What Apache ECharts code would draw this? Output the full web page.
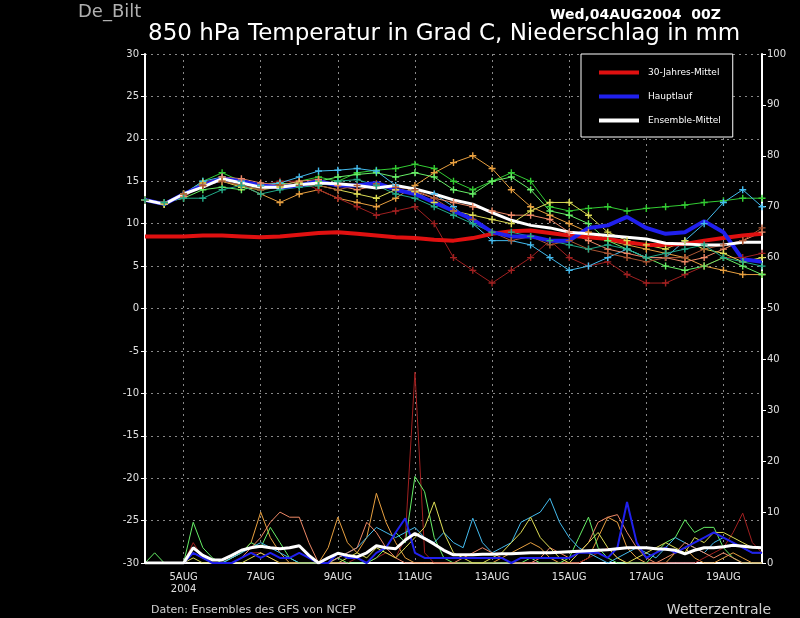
<!DOCTYPE html>
<html><head><meta charset="utf-8">
<script src="https://cdn.jsdelivr.net/npm/echarts@6/dist/echarts.min.js"></script>
<style>html,body{margin:0;background:#000}#c{width:800px;height:618px}</style>
</head><body><div id="c"></div>
<script>
// 6-hourly slots from 04AUG2004 00Z to 20AUG2004 00Z
const slots = [];
for (let i = 0; i <= 64; i++) slots.push(i);
const startDay = 4;

// temperature (12-hourly, 33 values), degC
const tMember = [
 [12.8,12.3,13.5,15,16,15,14.5,14.5,15,15.5,15,16,16.3,16.5,17,16.5,15,14,15,16,15,12,11.5,11.8,12,11.5,11.8,12,12.2,12.5,12.7,13,13],
 [12.8,12.3,13.5,14.5,15,14.5,13.5,12.5,13.5,14,13,12.5,12,13,14.5,16,17.2,18,16.5,14,12,11,10,9,8,7.5,7,6.5,6,5,4.5,4,4],
 [12.8,12.5,13,14.8,15.5,15,14.5,15,15,14,13,12,11,11.5,12,10,6,4.5,3,4.5,6,8,6,5,5.5,4,3,3,4,5,6,6,6.5],
 [12.8,12.5,13,14,14.3,14,14.5,14.8,14.5,15,15.5,15.8,16,15.5,16,15.5,14,13.5,15,15.5,14,11.5,11,10,8,7,6,5,4.5,5,6,5,4],
 [12.8,12.3,13.5,15,15.5,15,14.5,14.8,15.5,16.2,16.3,16.5,16.2,14.5,14,13.5,12,10,8,8,7.5,6,4.5,5,6,7,6,6,8,10,12.5,14,12],
 [12.8,12.3,13.2,14.5,15.5,15.3,14.8,14.5,15,15.2,14.5,14,14.5,14,13.8,13,12.5,12,11.5,11,11,10.5,9,8,7,6.5,6,6,5.5,6,7,8,9],
 [12.8,12.3,13.5,14.8,15,14.3,14,14.3,14.8,14.5,14,13.5,13,14,13.8,12.5,11.5,11,10.5,10,11.5,12.5,12.5,11,9,8,7.5,7,8,7,6.5,5.5,6],
 [12.8,12.5,13.5,14.5,15,14.5,14,14.5,14.5,14.5,14,14.5,14.7,14.3,14,13,11.5,10.5,9,8,8.5,7.5,8,7,6.5,6,5.5,6,6,7,7.5,8,9.5],
 [12.8,12.5,13,13,14,14.5,13.5,14,14.3,14.5,15,15.2,14.5,13.5,13,12,11,10,9,9,8.5,8,7.5,7,7.5,7,6,6.5,7,7.5,6,5.5,5]
];
const tClimate = [8.5,8.5,8.5,8.6,8.6,8.5,8.4,8.5,8.7,8.9,9.0,8.8,8.6,8.4,8.3,8.1,8.0,8.3,8.8,9.1,9.2,8.9,8.6,8.4,8.2,7.8,7.5,7.5,7.6,8.0,8.3,8.6,8.8];
const tMain = [12.8,12.3,13.5,14.5,15.3,15,14.5,14.3,14.5,15,14.5,14.5,14.8,14,13.5,12.5,11.5,10.5,9,8.5,8.5,8,8,9.5,9.8,10.8,9.5,8.8,9,10.3,9,5.8,5.5];
const tMean = [12.8,12.3,13.5,14.3,15.3,14.8,14.3,14.3,14.6,14.8,14.7,14.5,14.2,14.5,14.1,13.5,12.8,12.3,11.3,10.4,9.8,9.5,9.0,8.8,8.6,8.4,8.2,7.7,7.6,7.5,7.5,7.8,7.8];

// precipitation (6-hourly, 65 values), mm
const pMember = [
 null,
 [0,0,0,0,0,3,1,0,0,1,2,4,10,5,2,0,0,0,0,3,9,4,2,5,13.7,8,4,1,0,0,0,0,0,0,0,0,0,1,2,3,4,3,1,0,0,0,1,5,9,8,3,1,0,0,0,2,3,1,0,0,1,2,1,0,0],
 [0,0,0,0,0,4,1,0,0,0,1,2,2,1,0,0,0,0,0,0,0,0,1,0,1,2,1,5,37.5,2,0,0,0,0,0,0,0,0,0,0,0,0,0,0,0,0,1,2,3,1,0,0,0,0,0,0,0,0,1,2,3,6,9.8,4,2],
 [0,2,0,0,0,8,3,1,0,1,2,4,3,7,4,1,0,0,0,0,1,0,0,0,1,3,6,4,17,14,5,1,0,0,0,0,0,0,0,0,1,0,0,0,1,5,9,3,1,0,0,0,0,2,4,5,8.5,6,7,7,3,1,0,0,0],
 [0,0,0,0,0,2,1,0,0,1,2,3,4,3,2,1,0,0,0,0,1,2,3,5,7,6,5,6,7,5,4,6,4,3,8.8,4,2,3,4,8,9,10,12.7,8,5,3,2,1,0,1,2,3,2,1,3,5,4,3,2,4,5,4,3,2,2],
 [0,0,0,0,0,2,1,0,0,0,1,3,5,8,10,9,9,4,0,0,1,2,3,8,6,3,1,0,0,0,0,0,0,1,2,3,2,1,0,0,0,1,3,2,1,2,4,8,9,9.5,6,3,1,0,1,2,4,3,2,1,2,1,0,0,0],
 [0,0,0,0,0,1,0,0,0,0,0,1,2,1,0,0,0,0,0,0,0,1,2,1,3,2,1,3,5,7,12,6,2,1,0,0,1,2,4,6,9,5,3,1,0,2,4,6,3,1,0,1,2,3,4,3,2,5,4,6,6,5,4,3,3],
 null, null
];
const pMain = [0,0,0,0,0,2,1,0,0,0,1,2,1,2,1,1,2,1,0,0,2,1,1,0,2,3,6,8.8,2,1,1,1,1,1,1,1,1,1,0,1,1,1,1,1,1,2,2,2,1,3,12,4,1,2,3,2,3,4,5,6,5,4,3,2,2];
const pMean = [0,0,0,0,0,3,1.5,0.6,0.6,1.5,2.5,3,3.3,3,2.8,3,3.4,1.5,0,1,1.9,1.5,1.2,2,3.4,3,2.8,4.5,5.8,4.8,3.7,2.5,1.6,1.6,1.6,1.7,1.7,1.8,1.8,1.9,2.0,2.0,2.0,2.1,2.2,2.3,2.4,2.5,2.6,2.8,3,3,3,2.8,2.7,2.5,1.8,2.5,3,3,3.2,3.5,3.3,3.1,3.0];

const memberColors = ['#33cc33','#e8a040','#a02020','#66ee66','#44bbee','#ee8866','#dddd55','#aa5533','#22aa88'];
const tickDays = [5,7,9,11,13,15,17,19];

const plus = 'path://M4,0H6V4H10V6H6V10H4V6H0V4H4Z';
const t12 = arr => arr.map((v,k)=>[k*2, v]);
const isTick = i => i % 4 === 0 && tickDays.includes(startDay + i/4);

const series = [];
tMember.forEach((m,k)=>series.push({type:'line',xAxisIndex:0,yAxisIndex:0,data:t12(m),symbol:plus,symbolSize:7,showSymbol:true,showAllSymbol:true,
  lineStyle:{width:1,color:memberColors[k]},itemStyle:{color:memberColors[k]},animation:false,silent:true}));
pMember.forEach((m,k)=>{ if(!m) return; series.push({type:'line',yAxisIndex:1,data:m,symbol:'none',
  lineStyle:{width:1,color:memberColors[k]},animation:false,silent:true});});
series.push({type:'line',yAxisIndex:1,data:pMain,symbol:'none',lineStyle:{width:2,color:'#2020ee'},animation:false});
series.push({type:'line',yAxisIndex:1,data:pMean,symbol:'none',lineStyle:{width:3,color:'#ffffff'},animation:false});
series.push({name:'30-Jahres-Mittel',type:'line',yAxisIndex:0,data:t12(tClimate),symbol:'none',lineStyle:{width:4,color:'#e01010'},itemStyle:{color:'#e01010'},animation:false});
series.push({name:'Hauptlauf',type:'line',yAxisIndex:0,data:t12(tMain),symbol:'none',lineStyle:{width:4,color:'#2020ee'},itemStyle:{color:'#2020ee'},animation:false});
series.push({name:'Ensemble-Mittel',type:'line',yAxisIndex:0,data:t12(tMean),symbol:'none',lineStyle:{width:3,color:'#ffffff'},itemStyle:{color:'#ffffff'},animation:false});

const chart = echarts.init(document.getElementById('c'));
chart.setOption({
  backgroundColor:'#000',
  textStyle:{fontFamily:'DejaVu Sans'},
  title:[
    {text:'De_Bilt',left:73,top:-2,textStyle:{color:'#b0b0b0',fontSize:18,fontWeight:'normal'}},
    {text:'850 hPa Temperatur in Grad C, Niederschlag in mm',left:143,top:18,textStyle:{color:'#ffffff',fontSize:23,fontWeight:'normal'}},
    {text:'Wed,04AUG2004  00Z',left:545,top:3,textStyle:{color:'#ffffff',fontSize:14,fontWeight:'bold'}},
    {text:'Daten: Ensembles des GFS von NCEP',left:146,top:600,textStyle:{color:'#d0d0d0',fontSize:11,fontWeight:'normal'}},
    {text:'Wetterzentrale',right:24,top:598,textStyle:{color:'#d0d0d0',fontSize:14,fontWeight:'normal'}}
  ],
  legend:{data:['30-Jahres-Mittel','Hauptlauf','Ensemble-Mittel'],orient:'vertical',left:581,top:54,
    padding:[14,12,12,18],itemGap:15,itemWidth:40,itemHeight:4,icon:'rect',
    borderColor:'#ffffff',borderWidth:1,backgroundColor:'#000',
    textStyle:{color:'#ffffff',fontSize:9,padding:[0,0,0,4]}},
  grid:{left:145,right:38,top:54,bottom:55},
  xAxis:{type:'category',data:slots,boundaryGap:false,
    axisLine:{onZero:false,lineStyle:{color:'#ffffff',width:2}},
    axisTick:{show:false},
    axisLabel:{interval:(i)=>isTick(i),color:'#e0e0e0',fontSize:10,lineHeight:12,
      formatter:(v)=>{const d=startDay+v/4; return d===5?'5AUG\n2004':d+'AUG';}},
    splitLine:{show:true,interval:(i)=>isTick(i),lineStyle:{color:'#888',type:[2,4],width:1}}},
  yAxis:[
    {type:'value',min:-30,max:30,interval:5,position:'left',
      axisLine:{show:true,lineStyle:{color:'#ffffff',width:2}},axisTick:{show:true,length:4,lineStyle:{color:'#fff'}},
      axisLabel:{color:'#e0e0e0',fontSize:10,margin:6},
      splitLine:{show:true,lineStyle:{color:'#888',type:[2,4],width:1}}},
    {type:'value',min:0,max:100,interval:10,position:'right',
      axisLine:{show:true,lineStyle:{color:'#ffffff',width:2}},axisTick:{show:true,length:4,lineStyle:{color:'#fff'}},
      axisLabel:{color:'#e0e0e0',fontSize:10,margin:5},splitLine:{show:false}}
  ],
  series:series
});
</script></body></html>
